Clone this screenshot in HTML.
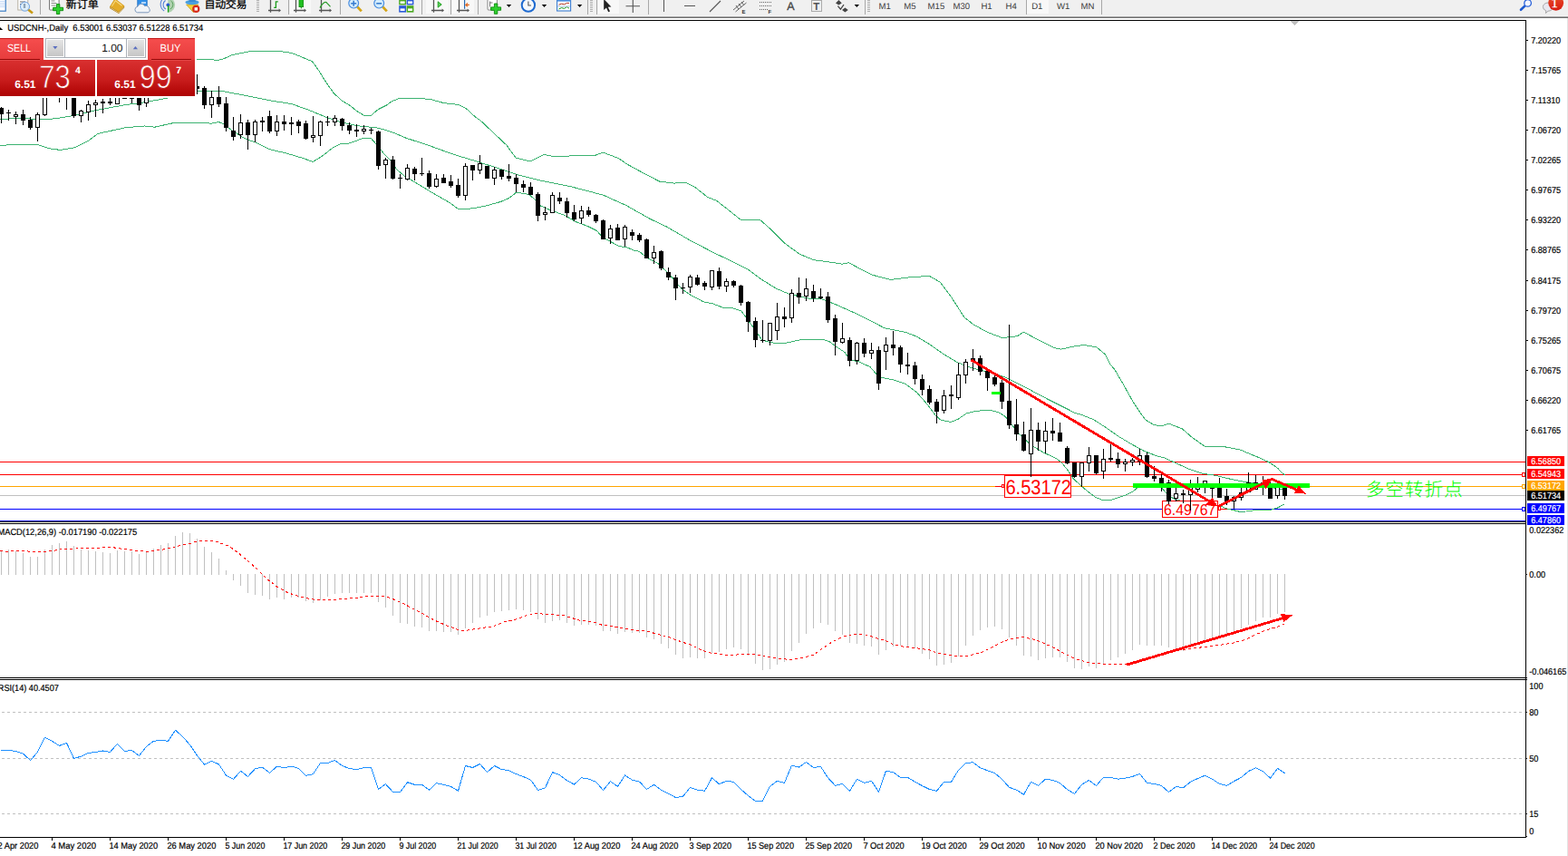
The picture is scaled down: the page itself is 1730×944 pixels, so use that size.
<!DOCTYPE html>
<html><head><meta charset="utf-8"><title>USDCNH Daily</title>
<style>
html,body{margin:0;padding:0;background:#fff;}
body{width:1730px;height:944px;overflow:hidden;position:relative;font-family:"Liberation Sans",sans-serif;}
svg{position:absolute;left:0;top:0;display:block}
text{font-family:"Liberation Sans",sans-serif;text-rendering:geometricPrecision}
.ax{font-size:9.2px;fill:#000}
.c{shape-rendering:crispEdges}
</style></head><body>
<svg width="1730" height="944" viewBox="0 0 1730 944">
<defs>
<linearGradient id="gbtn" x1="0" y1="0" x2="0" y2="1"><stop offset="0" stop-color="#f64d4d"/><stop offset="1" stop-color="#e63c3c"/></linearGradient>
<linearGradient id="gbig" x1="0" y1="0" x2="0" y2="1"><stop offset="0" stop-color="#d93030"/><stop offset="0.55" stop-color="#c81c1c"/><stop offset="1" stop-color="#ad0202"/></linearGradient>
<linearGradient id="gbig2" gradientUnits="userSpaceOnUse" x1="0" y1="66" x2="0" y2="106"><stop offset="0" stop-color="#d93030"/><stop offset="0.55" stop-color="#c81c1c"/><stop offset="1" stop-color="#ad0202"/></linearGradient>
<linearGradient id="gspin" x1="0" y1="0" x2="0" y2="1"><stop offset="0" stop-color="#e4e4e4"/><stop offset="1" stop-color="#c6c6c6"/></linearGradient>
<linearGradient id="gbadge" x1="0" y1="0" x2="0" y2="1"><stop offset="0" stop-color="#e8502c"/><stop offset="1" stop-color="#d81a10"/></linearGradient>
</defs>
<rect x="0" y="0" width="1730" height="944" fill="#fff"/>

<g class="c">
<rect x="0" y="22" width="1684" height="1" fill="#000"/>
<rect x="1683" y="22" width="1" height="902" fill="#000"/>
<rect x="0" y="923" width="1684" height="1" fill="#000"/>
<rect x="0" y="575" width="1684" height="1" fill="#000"/>
<rect x="0" y="577" width="1684" height="1" fill="#000"/>
<rect x="0" y="747" width="1684" height="1" fill="#000"/>
<rect x="0" y="749" width="1684" height="1" fill="#000"/>
<rect x="1729" y="19" width="1" height="925" fill="#e3e3e3"/>
</g>
<g class="c" fill="#c0c0c0"><rect x="1424" y="23" width="9" height="1"/><rect x="1425" y="24" width="7" height="1"/><rect x="1426" y="25" width="5" height="1"/><rect x="1427" y="26" width="3" height="1"/><rect x="1428" y="27" width="1" height="1"/></g>
<g class="c">
<rect x="0" y="509" width="1683" height="1" fill="#ff0000"/>
<rect x="0" y="523" width="1683" height="1" fill="#ff0000"/>
<rect x="0" y="536" width="1683" height="1" fill="#ffa500"/>
<rect x="0" y="546" width="1683" height="1" fill="#c0c0c0"/>
<rect x="0" y="561" width="1683" height="1" fill="#0000ff"/>
<rect x="0" y="574" width="1683" height="1" fill="#0000ff"/>
</g>
<polyline points="215.0,65.5 217.8,65.3 230.0,65.5 240.4,66.4 247.3,64.6 256.0,60.5 276.8,56.5 299.4,56.1 316.7,57.3 323.6,59.1 344.4,67.7 351.4,77.3 360.0,91.2 368.7,103.3 377.4,111.1 386.0,116.3 394.7,123.2 401.7,127.2 409.5,127.2 417.3,120.6 426.0,116.3 432.9,111.4 440.7,108.5 448.5,109.0 455.4,108.1 474.5,109.4 490.0,113.7 505.7,115.4 514.4,119.8 524.8,129.3 530.0,132.8 545.0,147.0 558.8,160.0 569.2,174.2 584.8,177.9 600.4,170.4 613.4,173.0 630.7,171.8 656.8,171.3 665.4,168.1 682.8,174.7 691.4,180.8 708.8,190.3 727.8,200.2 744.2,202.1 756.3,201.1 766.4,206.2 780.6,217.3 790.7,221.4 804.9,232.5 817.0,242.2 839.2,243.0 851.4,253.7 865.5,267.9 881.7,280.0 897.9,286.7 916.1,289.1 929.3,291.2 936.4,289.7 948.5,296.2 962.7,303.3 982.9,308.4 1003.1,305.9 1025.4,304.3 1037.5,311.4 1049.6,327.6 1063.8,349.8 1073.9,357.8 1089.5,366.4 1105.9,372.6 1122.3,370.8 1129.3,366.1 1147.3,375.8 1162.9,383.6 1170.7,385.1 1184.8,382.0 1195.7,380.4 1209.7,382.8 1219.1,390.6 1225.3,402.3 1230.0,407.7 1240.0,425.0 1250.0,443.0 1258.0,455.0 1264.2,463.3 1272.5,468.1 1281.0,470.1 1289.3,467.1 1304.4,472.9 1315.4,482.5 1329.2,492.2 1348.5,492.2 1369.2,496.3 1380.2,501.1 1390.0,505.0 1401.0,510.2 1409.4,516.1 1416.0,522.7 1417.5,524.0" fill="none" stroke="#3cb371" stroke-width="1" class="c"/>
<polyline points="0.0,131.7 22.0,130.0 46.0,132.0 61.0,130.8 82.0,127.3 105.5,121.7 139.0,115.5 152.6,114.0 184.0,108.3 200.0,104.0 217.8,100.2 230.0,100.3 243.9,100.3 264.7,104.2 299.4,111.1 321.9,114.6 341.0,121.5 360.0,129.3 377.4,135.0 394.7,138.8 417.3,141.1 432.9,145.8 448.5,152.4 472.0,160.0 500.7,170.4 526.7,178.2 551.0,186.0 570.0,192.4 596.0,199.0 630.7,206.0 665.4,215.1 691.4,226.8 717.4,241.5 735.5,250.0 760.7,264.7 786.7,278.3 811.0,289.9 824.8,296.8 838.7,307.2 856.0,318.0 870.0,324.0 890.7,328.9 908.0,330.1 922.0,335.8 942.8,345.0 960.0,353.3 975.6,361.7 999.0,366.4 1011.5,371.1 1025.6,379.7 1041.2,390.6 1056.8,399.9 1072.4,405.9 1089.5,410.1 1108.3,415.6 1131.7,427.3 1147.3,435.8 1162.9,443.7 1178.5,451.5 1185.0,455.0 1194.1,457.7 1206.4,462.6 1220.2,471.5 1234.0,481.2 1247.7,489.4 1261.5,497.0 1275.3,502.5 1283.8,504.6 1297.5,510.8 1311.3,517.0 1327.8,522.5 1340.0,524.1 1357.3,528.2 1374.7,531.7 1381.6,532.7 1400.0,537.0 1412.0,539.3 1417.5,539.5" fill="none" stroke="#3cb371" stroke-width="1" class="c"/>
<polyline points="0.0,160.2 37.5,159.2 41.6,159.6 55.5,164.0 66.6,165.4 83.0,162.7 97.0,155.7 108.0,147.4 138.7,140.7 159.5,139.0 170.6,140.2 194.0,135.0 222.0,135.0 233.0,136.3 241.3,134.5 247.3,137.1 256.0,144.0 269.9,152.7 282.0,157.0 296.8,164.5 316.7,169.2 334.0,174.4 345.3,178.4 354.9,172.6 367.0,163.1 375.7,158.8 386.0,157.9 399.9,152.7 409.5,152.7 417.3,161.4 422.5,168.3 431.1,177.0 438.1,187.4 446.7,194.3 457.3,200.7 474.7,211.2 497.2,224.2 505.5,230.6 521.5,229.9 537.1,226.8 552.7,222.4 561.4,218.6 570.0,212.0 583.9,214.6 590.9,220.7 596.0,226.8 606.5,231.4 623.8,237.7 634.2,244.1 648.0,249.3 658.5,254.5 665.4,262.3 672.4,265.8 682.8,271.5 691.4,272.7 700.0,276.4 705.2,277.2 713.9,284.3 726.0,290.7 738.1,302.0 752.0,318.5 760.7,324.6 776.3,332.9 786.7,335.0 797.1,339.0 807.5,339.6 817.9,342.8 824.8,352.3 833.5,364.4 840.5,374.8 847.4,376.9 856.0,378.7 866.5,378.3 885.5,374.3 908.0,374.3 915.0,376.6 922.0,381.8 932.4,388.7 937.6,397.4 946.2,398.3 960.0,404.6 966.2,411.7 972.5,416.3 985.0,418.7 999.0,423.4 1011.5,432.7 1022.4,445.2 1031.8,457.7 1038.0,463.2 1049.0,465.5 1056.8,462.4 1066.1,456.1 1075.5,453.5 1091.1,452.2 1100.5,454.3 1108.3,458.5 1113.0,464.0 1123.8,477.7 1137.5,490.8 1151.3,499.1 1165.0,505.3 1172.0,510.8 1178.9,519.7 1184.4,528.0 1192.6,535.6 1200.9,542.5 1209.2,548.7 1217.4,551.8 1225.7,551.4 1234.0,548.7 1242.2,545.9 1249.1,542.5 1254.6,538.3 1262.0,535.0 1272.0,535.0 1281.0,537.6 1287.7,544.5 1294.8,550.0 1305.0,553.0 1320.0,556.0 1335.0,557.0 1347.0,558.0 1353.9,561.2 1360.9,562.6 1367.7,564.3 1374.7,564.0 1388.6,562.2 1402.4,562.2 1409.4,560.1 1416.6,556.3" fill="none" stroke="#3cb371" stroke-width="1" class="c"/>
<rect class="c" x="1108.5" y="523.5" width="73" height="25" fill="#fff" stroke="#ff0000" stroke-width="1"/>
<rect class="c" x="1108" y="524" width="74" height="1" fill="#ff0000"/>
<text x="1109.4" y="545" textLength="72.6" lengthAdjust="spacingAndGlyphs" style="font-size:22.6px;fill:#ff0000;">6.53172</text>
<rect class="c" x="1098" y="536" width="7" height="1" fill="#ff0000"/>
<rect class="c" x="1105.5" y="534.5" width="2" height="3" fill="#fff" stroke="#ff0000" stroke-width="1"/>
<rect class="c" x="1282.5" y="552.5" width="61" height="18" fill="#fff" stroke="#ff0000" stroke-width="1"/>
<text x="1284" y="568.2" textLength="57.4" lengthAdjust="spacingAndGlyphs" style="font-size:17.1px;fill:#ff0000;">6.49767</text>
<rect class="c" x="1347" y="561" width="7" height="1" fill="#ff0000"/>
<rect class="c" x="1344.5" y="558.5" width="2" height="4" fill="#fff" stroke="#ff0000" stroke-width="1"/>
<g class="c">
<rect x="1" y="118" width="1" height="18" fill="#000"/>
<rect x="-1" y="119" width="5" height="7" fill="#000"/>
<rect x="9" y="121" width="1" height="12" fill="#000"/>
<rect x="7" y="124" width="5" height="1" fill="#000"/>
<rect x="17" y="123" width="1" height="14" fill="#000"/>
<rect x="15" y="126" width="5" height="3" fill="#000"/>
<rect x="16" y="127" width="3" height="1" fill="#fff"/>
<rect x="25" y="121" width="1" height="17" fill="#000"/>
<rect x="23" y="126" width="5" height="7" fill="#000"/>
<rect x="33" y="129" width="1" height="14" fill="#000"/>
<rect x="31" y="132" width="5" height="9" fill="#000"/>
<rect x="41" y="124" width="1" height="32" fill="#000"/>
<rect x="39" y="126" width="5" height="15" fill="#000"/>
<rect x="40" y="127" width="3" height="13" fill="#fff"/>
<rect x="49" y="92" width="1" height="36" fill="#000"/>
<rect x="47" y="95" width="5" height="32" fill="#000"/>
<rect x="48" y="96" width="3" height="30" fill="#fff"/>
<rect x="57" y="88" width="1" height="16" fill="#000"/>
<rect x="55" y="92" width="5" height="8" fill="#000"/>
<rect x="65" y="90" width="1" height="23" fill="#000"/>
<rect x="63" y="95" width="5" height="9" fill="#000"/>
<rect x="64" y="96" width="3" height="7" fill="#fff"/>
<rect x="73" y="92" width="1" height="29" fill="#000"/>
<rect x="71" y="96" width="5" height="8" fill="#000"/>
<rect x="81" y="97" width="1" height="33" fill="#000"/>
<rect x="79" y="100" width="5" height="28" fill="#000"/>
<rect x="89" y="121" width="1" height="14" fill="#000"/>
<rect x="87" y="122" width="5" height="6" fill="#000"/>
<rect x="88" y="123" width="3" height="4" fill="#fff"/>
<rect x="97" y="111" width="1" height="22" fill="#000"/>
<rect x="95" y="115" width="5" height="9" fill="#000"/>
<rect x="96" y="116" width="3" height="7" fill="#fff"/>
<rect x="105" y="110" width="1" height="19" fill="#000"/>
<rect x="103" y="113" width="5" height="3" fill="#000"/>
<rect x="104" y="114" width="3" height="1" fill="#fff"/>
<rect x="113" y="109" width="1" height="16" fill="#000"/>
<rect x="111" y="112" width="5" height="2" fill="#000"/>
<rect x="121" y="108" width="1" height="8" fill="#000"/>
<rect x="119" y="112" width="5" height="2" fill="#000"/>
<rect x="129" y="100" width="1" height="15" fill="#000"/>
<rect x="127" y="104" width="5" height="11" fill="#000"/>
<rect x="128" y="105" width="3" height="9" fill="#fff"/>
<rect x="137" y="98" width="1" height="11" fill="#000"/>
<rect x="135" y="100" width="5" height="9" fill="#000"/>
<rect x="145" y="103" width="1" height="11" fill="#000"/>
<rect x="143" y="108" width="5" height="1" fill="#000"/>
<rect x="153" y="100" width="1" height="22" fill="#000"/>
<rect x="151" y="104" width="5" height="12" fill="#000"/>
<rect x="161" y="98" width="1" height="20" fill="#000"/>
<rect x="159" y="101" width="5" height="13" fill="#000"/>
<rect x="160" y="102" width="3" height="11" fill="#fff"/>
<rect x="169" y="95" width="1" height="11" fill="#000"/>
<rect x="167" y="98" width="5" height="6" fill="#000"/>
<rect x="177" y="94" width="1" height="12" fill="#000"/>
<rect x="175" y="97" width="5" height="6" fill="#000"/>
<rect x="176" y="98" width="3" height="4" fill="#fff"/>
<rect x="185" y="92" width="1" height="13" fill="#000"/>
<rect x="183" y="95" width="5" height="7" fill="#000"/>
<rect x="193" y="85" width="1" height="19" fill="#000"/>
<rect x="191" y="88" width="5" height="12" fill="#000"/>
<rect x="192" y="89" width="3" height="10" fill="#fff"/>
<rect x="201" y="80" width="1" height="20" fill="#000"/>
<rect x="199" y="84" width="5" height="12" fill="#000"/>
<rect x="200" y="85" width="3" height="10" fill="#fff"/>
<rect x="209" y="80" width="1" height="20" fill="#000"/>
<rect x="207" y="86" width="5" height="10" fill="#000"/>
<rect x="217" y="82" width="1" height="22" fill="#000"/>
<rect x="215" y="95" width="5" height="3" fill="#000"/>
<rect x="225" y="95" width="1" height="25" fill="#000"/>
<rect x="223" y="97" width="5" height="19" fill="#000"/>
<rect x="233" y="100" width="1" height="30" fill="#000"/>
<rect x="231" y="107" width="5" height="9" fill="#000"/>
<rect x="232" y="108" width="3" height="7" fill="#fff"/>
<rect x="241" y="95" width="1" height="23" fill="#000"/>
<rect x="239" y="107" width="5" height="8" fill="#000"/>
<rect x="249" y="107" width="1" height="38" fill="#000"/>
<rect x="247" y="114" width="5" height="27" fill="#000"/>
<rect x="257" y="129" width="1" height="26" fill="#000"/>
<rect x="255" y="144" width="5" height="7" fill="#000"/>
<rect x="265" y="126" width="1" height="27" fill="#000"/>
<rect x="263" y="135" width="5" height="14" fill="#000"/>
<rect x="264" y="136" width="3" height="12" fill="#fff"/>
<rect x="273" y="132" width="1" height="33" fill="#000"/>
<rect x="271" y="135" width="5" height="14" fill="#000"/>
<rect x="281" y="132" width="1" height="25" fill="#000"/>
<rect x="279" y="134" width="5" height="15" fill="#000"/>
<rect x="280" y="135" width="3" height="13" fill="#fff"/>
<rect x="289" y="129" width="1" height="16" fill="#000"/>
<rect x="287" y="133" width="5" height="2" fill="#000"/>
<rect x="297" y="122" width="1" height="25" fill="#000"/>
<rect x="295" y="128" width="5" height="17" fill="#000"/>
<rect x="305" y="127" width="1" height="23" fill="#000"/>
<rect x="303" y="134" width="5" height="11" fill="#000"/>
<rect x="304" y="135" width="3" height="9" fill="#fff"/>
<rect x="313" y="127" width="1" height="17" fill="#000"/>
<rect x="311" y="134" width="5" height="3" fill="#000"/>
<rect x="321" y="129" width="1" height="20" fill="#000"/>
<rect x="319" y="135" width="5" height="2" fill="#000"/>
<rect x="329" y="132" width="1" height="15" fill="#000"/>
<rect x="327" y="134" width="5" height="5" fill="#000"/>
<rect x="337" y="133" width="1" height="21" fill="#000"/>
<rect x="335" y="136" width="5" height="17" fill="#000"/>
<rect x="345" y="128" width="1" height="29" fill="#000"/>
<rect x="343" y="149" width="5" height="3" fill="#000"/>
<rect x="344" y="150" width="3" height="1" fill="#fff"/>
<rect x="353" y="133" width="1" height="28" fill="#000"/>
<rect x="351" y="134" width="5" height="16" fill="#000"/>
<rect x="352" y="135" width="3" height="14" fill="#fff"/>
<rect x="361" y="128" width="1" height="11" fill="#000"/>
<rect x="359" y="134" width="5" height="1" fill="#000"/>
<rect x="369" y="127" width="1" height="12" fill="#000"/>
<rect x="367" y="130" width="5" height="5" fill="#000"/>
<rect x="368" y="131" width="3" height="3" fill="#fff"/>
<rect x="377" y="130" width="1" height="14" fill="#000"/>
<rect x="375" y="131" width="5" height="8" fill="#000"/>
<rect x="385" y="135" width="1" height="13" fill="#000"/>
<rect x="383" y="138" width="5" height="6" fill="#000"/>
<rect x="393" y="137" width="1" height="14" fill="#000"/>
<rect x="391" y="143" width="5" height="2" fill="#000"/>
<rect x="401" y="138" width="1" height="10" fill="#000"/>
<rect x="399" y="142" width="5" height="3" fill="#000"/>
<rect x="400" y="143" width="3" height="1" fill="#fff"/>
<rect x="409" y="141" width="1" height="7" fill="#000"/>
<rect x="407" y="143" width="5" height="1" fill="#000"/>
<rect x="417" y="144" width="1" height="43" fill="#000"/>
<rect x="415" y="145" width="5" height="38" fill="#000"/>
<rect x="425" y="174" width="1" height="23" fill="#000"/>
<rect x="423" y="176" width="5" height="6" fill="#000"/>
<rect x="424" y="177" width="3" height="4" fill="#fff"/>
<rect x="433" y="172" width="1" height="26" fill="#000"/>
<rect x="431" y="176" width="5" height="21" fill="#000"/>
<rect x="441" y="192" width="1" height="16" fill="#000"/>
<rect x="439" y="196" width="5" height="1" fill="#000"/>
<rect x="449" y="181" width="1" height="18" fill="#000"/>
<rect x="447" y="185" width="5" height="13" fill="#000"/>
<rect x="448" y="186" width="3" height="11" fill="#fff"/>
<rect x="457" y="184" width="1" height="15" fill="#000"/>
<rect x="455" y="186" width="5" height="6" fill="#000"/>
<rect x="465" y="174" width="1" height="20" fill="#000"/>
<rect x="463" y="191" width="5" height="1" fill="#000"/>
<rect x="473" y="188" width="1" height="20" fill="#000"/>
<rect x="471" y="191" width="5" height="15" fill="#000"/>
<rect x="481" y="192" width="1" height="15" fill="#000"/>
<rect x="479" y="197" width="5" height="9" fill="#000"/>
<rect x="480" y="198" width="3" height="7" fill="#fff"/>
<rect x="489" y="192" width="1" height="10" fill="#000"/>
<rect x="487" y="196" width="5" height="6" fill="#000"/>
<rect x="497" y="193" width="1" height="14" fill="#000"/>
<rect x="495" y="200" width="5" height="5" fill="#000"/>
<rect x="505" y="197" width="1" height="21" fill="#000"/>
<rect x="503" y="204" width="5" height="12" fill="#000"/>
<rect x="513" y="180" width="1" height="41" fill="#000"/>
<rect x="511" y="183" width="5" height="33" fill="#000"/>
<rect x="512" y="184" width="3" height="31" fill="#fff"/>
<rect x="521" y="182" width="1" height="17" fill="#000"/>
<rect x="519" y="182" width="5" height="6" fill="#000"/>
<rect x="529" y="171" width="1" height="21" fill="#000"/>
<rect x="527" y="180" width="5" height="8" fill="#000"/>
<rect x="528" y="181" width="3" height="6" fill="#fff"/>
<rect x="537" y="183" width="1" height="14" fill="#000"/>
<rect x="535" y="183" width="5" height="14" fill="#000"/>
<rect x="545" y="184" width="1" height="20" fill="#000"/>
<rect x="543" y="187" width="5" height="10" fill="#000"/>
<rect x="544" y="188" width="3" height="8" fill="#fff"/>
<rect x="553" y="187" width="1" height="11" fill="#000"/>
<rect x="551" y="187" width="5" height="8" fill="#000"/>
<rect x="561" y="181" width="1" height="19" fill="#000"/>
<rect x="559" y="194" width="5" height="3" fill="#000"/>
<rect x="569" y="192" width="1" height="20" fill="#000"/>
<rect x="567" y="196" width="5" height="7" fill="#000"/>
<rect x="577" y="199" width="1" height="13" fill="#000"/>
<rect x="575" y="203" width="5" height="4" fill="#000"/>
<rect x="585" y="201" width="1" height="14" fill="#000"/>
<rect x="583" y="206" width="5" height="9" fill="#000"/>
<rect x="593" y="212" width="1" height="32" fill="#000"/>
<rect x="591" y="214" width="5" height="24" fill="#000"/>
<rect x="601" y="228" width="1" height="15" fill="#000"/>
<rect x="599" y="234" width="5" height="3" fill="#000"/>
<rect x="600" y="235" width="3" height="1" fill="#fff"/>
<rect x="609" y="212" width="1" height="23" fill="#000"/>
<rect x="607" y="215" width="5" height="20" fill="#000"/>
<rect x="608" y="216" width="3" height="18" fill="#fff"/>
<rect x="617" y="212" width="1" height="13" fill="#000"/>
<rect x="615" y="218" width="5" height="4" fill="#000"/>
<rect x="625" y="218" width="1" height="22" fill="#000"/>
<rect x="623" y="222" width="5" height="13" fill="#000"/>
<rect x="633" y="226" width="1" height="18" fill="#000"/>
<rect x="631" y="234" width="5" height="8" fill="#000"/>
<rect x="641" y="227" width="1" height="20" fill="#000"/>
<rect x="639" y="232" width="5" height="9" fill="#000"/>
<rect x="640" y="233" width="3" height="7" fill="#fff"/>
<rect x="649" y="228" width="1" height="11" fill="#000"/>
<rect x="647" y="232" width="5" height="5" fill="#000"/>
<rect x="657" y="236" width="1" height="10" fill="#000"/>
<rect x="655" y="237" width="5" height="7" fill="#000"/>
<rect x="665" y="242" width="1" height="22" fill="#000"/>
<rect x="663" y="243" width="5" height="21" fill="#000"/>
<rect x="673" y="248" width="1" height="21" fill="#000"/>
<rect x="671" y="252" width="5" height="11" fill="#000"/>
<rect x="672" y="253" width="3" height="9" fill="#fff"/>
<rect x="681" y="247" width="1" height="18" fill="#000"/>
<rect x="679" y="251" width="5" height="14" fill="#000"/>
<rect x="689" y="248" width="1" height="24" fill="#000"/>
<rect x="687" y="250" width="5" height="14" fill="#000"/>
<rect x="688" y="251" width="3" height="12" fill="#fff"/>
<rect x="697" y="253" width="1" height="12" fill="#000"/>
<rect x="695" y="256" width="5" height="4" fill="#000"/>
<rect x="705" y="257" width="1" height="10" fill="#000"/>
<rect x="703" y="259" width="5" height="6" fill="#000"/>
<rect x="713" y="263" width="1" height="22" fill="#000"/>
<rect x="711" y="264" width="5" height="21" fill="#000"/>
<rect x="721" y="271" width="1" height="20" fill="#000"/>
<rect x="719" y="278" width="5" height="7" fill="#000"/>
<rect x="720" y="279" width="3" height="5" fill="#fff"/>
<rect x="729" y="276" width="1" height="22" fill="#000"/>
<rect x="727" y="277" width="5" height="19" fill="#000"/>
<rect x="737" y="295" width="1" height="14" fill="#000"/>
<rect x="735" y="300" width="5" height="6" fill="#000"/>
<rect x="745" y="303" width="1" height="28" fill="#000"/>
<rect x="743" y="306" width="5" height="12" fill="#000"/>
<rect x="753" y="312" width="1" height="12" fill="#000"/>
<rect x="751" y="317" width="5" height="1" fill="#000"/>
<rect x="761" y="303" width="1" height="20" fill="#000"/>
<rect x="759" y="305" width="5" height="12" fill="#000"/>
<rect x="760" y="306" width="3" height="10" fill="#fff"/>
<rect x="769" y="303" width="1" height="12" fill="#000"/>
<rect x="767" y="306" width="5" height="8" fill="#000"/>
<rect x="777" y="310" width="1" height="10" fill="#000"/>
<rect x="775" y="312" width="5" height="4" fill="#000"/>
<rect x="785" y="298" width="1" height="22" fill="#000"/>
<rect x="783" y="298" width="5" height="19" fill="#000"/>
<rect x="784" y="299" width="3" height="17" fill="#fff"/>
<rect x="793" y="295" width="1" height="24" fill="#000"/>
<rect x="791" y="299" width="5" height="17" fill="#000"/>
<rect x="801" y="307" width="1" height="15" fill="#000"/>
<rect x="799" y="310" width="5" height="6" fill="#000"/>
<rect x="800" y="311" width="3" height="4" fill="#fff"/>
<rect x="809" y="309" width="1" height="8" fill="#000"/>
<rect x="807" y="310" width="5" height="5" fill="#000"/>
<rect x="817" y="314" width="1" height="23" fill="#000"/>
<rect x="815" y="315" width="5" height="19" fill="#000"/>
<rect x="825" y="332" width="1" height="34" fill="#000"/>
<rect x="823" y="333" width="5" height="22" fill="#000"/>
<rect x="833" y="350" width="1" height="33" fill="#000"/>
<rect x="831" y="354" width="5" height="21" fill="#000"/>
<rect x="841" y="353" width="1" height="25" fill="#000"/>
<rect x="839" y="375" width="5" height="1" fill="#000"/>
<rect x="849" y="356" width="1" height="25" fill="#000"/>
<rect x="847" y="356" width="5" height="20" fill="#000"/>
<rect x="848" y="357" width="3" height="18" fill="#fff"/>
<rect x="857" y="334" width="1" height="41" fill="#000"/>
<rect x="855" y="349" width="5" height="16" fill="#000"/>
<rect x="856" y="350" width="3" height="14" fill="#fff"/>
<rect x="865" y="339" width="1" height="22" fill="#000"/>
<rect x="863" y="349" width="5" height="3" fill="#000"/>
<rect x="873" y="319" width="1" height="37" fill="#000"/>
<rect x="871" y="323" width="5" height="28" fill="#000"/>
<rect x="872" y="324" width="3" height="26" fill="#fff"/>
<rect x="881" y="306" width="1" height="29" fill="#000"/>
<rect x="879" y="323" width="5" height="5" fill="#000"/>
<rect x="889" y="307" width="1" height="25" fill="#000"/>
<rect x="887" y="318" width="5" height="9" fill="#000"/>
<rect x="888" y="319" width="3" height="7" fill="#fff"/>
<rect x="897" y="314" width="1" height="19" fill="#000"/>
<rect x="895" y="321" width="5" height="8" fill="#000"/>
<rect x="905" y="318" width="1" height="12" fill="#000"/>
<rect x="903" y="327" width="5" height="2" fill="#000"/>
<rect x="913" y="322" width="1" height="34" fill="#000"/>
<rect x="911" y="327" width="5" height="26" fill="#000"/>
<rect x="921" y="347" width="1" height="45" fill="#000"/>
<rect x="919" y="351" width="5" height="26" fill="#000"/>
<rect x="929" y="356" width="1" height="23" fill="#000"/>
<rect x="927" y="373" width="5" height="5" fill="#000"/>
<rect x="928" y="374" width="3" height="3" fill="#fff"/>
<rect x="937" y="372" width="1" height="32" fill="#000"/>
<rect x="935" y="375" width="5" height="23" fill="#000"/>
<rect x="945" y="377" width="1" height="25" fill="#000"/>
<rect x="943" y="378" width="5" height="20" fill="#000"/>
<rect x="944" y="379" width="3" height="18" fill="#fff"/>
<rect x="953" y="373" width="1" height="21" fill="#000"/>
<rect x="951" y="378" width="5" height="12" fill="#000"/>
<rect x="961" y="378" width="1" height="18" fill="#000"/>
<rect x="959" y="386" width="5" height="4" fill="#000"/>
<rect x="960" y="387" width="3" height="2" fill="#fff"/>
<rect x="969" y="382" width="1" height="48" fill="#000"/>
<rect x="967" y="386" width="5" height="37" fill="#000"/>
<rect x="977" y="372" width="1" height="36" fill="#000"/>
<rect x="975" y="380" width="5" height="8" fill="#000"/>
<rect x="976" y="381" width="3" height="6" fill="#fff"/>
<rect x="985" y="365" width="1" height="27" fill="#000"/>
<rect x="983" y="380" width="5" height="4" fill="#000"/>
<rect x="993" y="381" width="1" height="30" fill="#000"/>
<rect x="991" y="383" width="5" height="19" fill="#000"/>
<rect x="1001" y="389" width="1" height="24" fill="#000"/>
<rect x="999" y="402" width="5" height="2" fill="#000"/>
<rect x="1009" y="399" width="1" height="25" fill="#000"/>
<rect x="1007" y="403" width="5" height="15" fill="#000"/>
<rect x="1017" y="413" width="1" height="23" fill="#000"/>
<rect x="1015" y="418" width="5" height="12" fill="#000"/>
<rect x="1025" y="425" width="1" height="21" fill="#000"/>
<rect x="1023" y="429" width="5" height="15" fill="#000"/>
<rect x="1033" y="440" width="1" height="27" fill="#000"/>
<rect x="1031" y="443" width="5" height="11" fill="#000"/>
<rect x="1041" y="430" width="1" height="26" fill="#000"/>
<rect x="1039" y="436" width="5" height="17" fill="#000"/>
<rect x="1040" y="437" width="3" height="15" fill="#fff"/>
<rect x="1049" y="425" width="1" height="26" fill="#000"/>
<rect x="1047" y="435" width="5" height="2" fill="#000"/>
<rect x="1057" y="400" width="1" height="41" fill="#000"/>
<rect x="1055" y="413" width="5" height="26" fill="#000"/>
<rect x="1056" y="414" width="3" height="24" fill="#fff"/>
<rect x="1065" y="396" width="1" height="27" fill="#000"/>
<rect x="1063" y="399" width="5" height="15" fill="#000"/>
<rect x="1064" y="400" width="3" height="13" fill="#fff"/>
<rect x="1073" y="385" width="1" height="24" fill="#000"/>
<rect x="1071" y="395" width="5" height="4" fill="#000"/>
<rect x="1081" y="392" width="1" height="22" fill="#000"/>
<rect x="1079" y="395" width="5" height="15" fill="#000"/>
<rect x="1089" y="409" width="1" height="22" fill="#000"/>
<rect x="1087" y="409" width="5" height="8" fill="#000"/>
<rect x="1097" y="413" width="1" height="13" fill="#000"/>
<rect x="1095" y="416" width="5" height="8" fill="#000"/>
<rect x="1105" y="416" width="1" height="35" fill="#000"/>
<rect x="1103" y="422" width="5" height="21" fill="#000"/>
<rect x="1113" y="358" width="1" height="115" fill="#000"/>
<rect x="1111" y="442" width="5" height="27" fill="#000"/>
<rect x="1121" y="440" width="1" height="46" fill="#000"/>
<rect x="1119" y="468" width="5" height="11" fill="#000"/>
<rect x="1129" y="465" width="1" height="33" fill="#000"/>
<rect x="1127" y="479" width="5" height="18" fill="#000"/>
<rect x="1137" y="450" width="1" height="76" fill="#000"/>
<rect x="1135" y="474" width="5" height="27" fill="#000"/>
<rect x="1136" y="475" width="3" height="25" fill="#fff"/>
<rect x="1145" y="466" width="1" height="31" fill="#000"/>
<rect x="1143" y="474" width="5" height="13" fill="#000"/>
<rect x="1153" y="465" width="1" height="35" fill="#000"/>
<rect x="1151" y="475" width="5" height="12" fill="#000"/>
<rect x="1152" y="476" width="3" height="10" fill="#fff"/>
<rect x="1161" y="461" width="1" height="25" fill="#000"/>
<rect x="1159" y="475" width="5" height="3" fill="#000"/>
<rect x="1169" y="466" width="1" height="21" fill="#000"/>
<rect x="1167" y="477" width="5" height="10" fill="#000"/>
<rect x="1177" y="492" width="1" height="20" fill="#000"/>
<rect x="1175" y="494" width="5" height="17" fill="#000"/>
<rect x="1185" y="510" width="1" height="17" fill="#000"/>
<rect x="1183" y="510" width="5" height="16" fill="#000"/>
<rect x="1193" y="510" width="1" height="27" fill="#000"/>
<rect x="1191" y="510" width="5" height="16" fill="#000"/>
<rect x="1192" y="511" width="3" height="14" fill="#fff"/>
<rect x="1201" y="493" width="1" height="27" fill="#000"/>
<rect x="1199" y="502" width="5" height="9" fill="#000"/>
<rect x="1200" y="503" width="3" height="7" fill="#fff"/>
<rect x="1209" y="502" width="1" height="21" fill="#000"/>
<rect x="1207" y="502" width="5" height="20" fill="#000"/>
<rect x="1217" y="495" width="1" height="33" fill="#000"/>
<rect x="1215" y="506" width="5" height="14" fill="#000"/>
<rect x="1216" y="507" width="3" height="12" fill="#fff"/>
<rect x="1225" y="490" width="1" height="19" fill="#000"/>
<rect x="1223" y="505" width="5" height="2" fill="#000"/>
<rect x="1233" y="499" width="1" height="17" fill="#000"/>
<rect x="1231" y="506" width="5" height="6" fill="#000"/>
<rect x="1241" y="506" width="1" height="14" fill="#000"/>
<rect x="1239" y="509" width="5" height="3" fill="#000"/>
<rect x="1240" y="510" width="3" height="1" fill="#fff"/>
<rect x="1249" y="505" width="1" height="9" fill="#000"/>
<rect x="1247" y="507" width="5" height="3" fill="#000"/>
<rect x="1248" y="508" width="3" height="1" fill="#fff"/>
<rect x="1257" y="495" width="1" height="18" fill="#000"/>
<rect x="1255" y="502" width="5" height="7" fill="#000"/>
<rect x="1256" y="503" width="3" height="5" fill="#fff"/>
<rect x="1265" y="499" width="1" height="28" fill="#000"/>
<rect x="1263" y="502" width="5" height="24" fill="#000"/>
<rect x="1273" y="514" width="1" height="17" fill="#000"/>
<rect x="1271" y="525" width="5" height="3" fill="#000"/>
<rect x="1281" y="523" width="1" height="19" fill="#000"/>
<rect x="1279" y="527" width="5" height="10" fill="#000"/>
<rect x="1289" y="529" width="1" height="27" fill="#000"/>
<rect x="1287" y="532" width="5" height="21" fill="#000"/>
<rect x="1297" y="538" width="1" height="15" fill="#000"/>
<rect x="1295" y="544" width="5" height="6" fill="#000"/>
<rect x="1296" y="545" width="3" height="4" fill="#fff"/>
<rect x="1305" y="540" width="1" height="15" fill="#000"/>
<rect x="1303" y="544" width="5" height="2" fill="#000"/>
<rect x="1313" y="529" width="1" height="34" fill="#000"/>
<rect x="1311" y="536" width="5" height="10" fill="#000"/>
<rect x="1312" y="537" width="3" height="8" fill="#fff"/>
<rect x="1321" y="526" width="1" height="17" fill="#000"/>
<rect x="1319" y="534" width="5" height="6" fill="#000"/>
<rect x="1320" y="535" width="3" height="4" fill="#fff"/>
<rect x="1329" y="530" width="1" height="14" fill="#000"/>
<rect x="1327" y="530" width="5" height="6" fill="#000"/>
<rect x="1328" y="531" width="3" height="4" fill="#fff"/>
<rect x="1337" y="538" width="1" height="11" fill="#000"/>
<rect x="1335" y="538" width="5" height="1" fill="#000"/>
<rect x="1345" y="527" width="1" height="22" fill="#000"/>
<rect x="1343" y="538" width="5" height="11" fill="#000"/>
<rect x="1353" y="539" width="1" height="18" fill="#000"/>
<rect x="1351" y="547" width="5" height="6" fill="#000"/>
<rect x="1361" y="547" width="1" height="14" fill="#000"/>
<rect x="1359" y="548" width="5" height="5" fill="#000"/>
<rect x="1360" y="549" width="3" height="3" fill="#fff"/>
<rect x="1369" y="538" width="1" height="14" fill="#000"/>
<rect x="1367" y="543" width="5" height="6" fill="#000"/>
<rect x="1368" y="544" width="3" height="4" fill="#fff"/>
<rect x="1377" y="521" width="1" height="22" fill="#000"/>
<rect x="1375" y="532" width="5" height="11" fill="#000"/>
<rect x="1376" y="533" width="3" height="9" fill="#fff"/>
<rect x="1385" y="524" width="1" height="16" fill="#000"/>
<rect x="1383" y="532" width="5" height="8" fill="#000"/>
<rect x="1384" y="533" width="3" height="6" fill="#fff"/>
<rect x="1393" y="525" width="1" height="21" fill="#000"/>
<rect x="1391" y="532" width="5" height="1" fill="#000"/>
<rect x="1401" y="532" width="1" height="18" fill="#000"/>
<rect x="1399" y="534" width="5" height="16" fill="#000"/>
<rect x="1409" y="532" width="1" height="18" fill="#000"/>
<rect x="1407" y="535" width="5" height="12" fill="#000"/>
<rect x="1408" y="536" width="3" height="10" fill="#fff"/>
<rect x="1417" y="534" width="1" height="17" fill="#000"/>
<rect x="1415" y="535" width="5" height="12" fill="#000"/>
</g>
<g class="c" fill="#c0c0c0">
<rect x="1" y="607" width="1" height="27"/>
<rect x="9" y="606" width="1" height="28"/>
<rect x="17" y="608" width="1" height="26"/>
<rect x="25" y="610" width="1" height="24"/>
<rect x="33" y="614" width="1" height="20"/>
<rect x="41" y="614" width="1" height="20"/>
<rect x="49" y="606" width="1" height="28"/>
<rect x="57" y="601" width="1" height="33"/>
<rect x="65" y="599" width="1" height="35"/>
<rect x="73" y="597" width="1" height="37"/>
<rect x="81" y="602" width="1" height="32"/>
<rect x="89" y="606" width="1" height="28"/>
<rect x="97" y="607" width="1" height="27"/>
<rect x="105" y="608" width="1" height="26"/>
<rect x="113" y="609" width="1" height="25"/>
<rect x="121" y="610" width="1" height="24"/>
<rect x="129" y="607" width="1" height="27"/>
<rect x="137" y="608" width="1" height="26"/>
<rect x="145" y="608" width="1" height="26"/>
<rect x="153" y="611" width="1" height="23"/>
<rect x="161" y="609" width="1" height="25"/>
<rect x="169" y="605" width="1" height="29"/>
<rect x="177" y="601" width="1" height="33"/>
<rect x="185" y="599" width="1" height="35"/>
<rect x="193" y="591" width="1" height="43"/>
<rect x="201" y="587" width="1" height="47"/>
<rect x="209" y="588" width="1" height="46"/>
<rect x="217" y="594" width="1" height="40"/>
<rect x="225" y="603" width="1" height="31"/>
<rect x="233" y="609" width="1" height="25"/>
<rect x="241" y="616" width="1" height="18"/>
<rect x="249" y="629" width="1" height="5"/>
<rect x="257" y="633" width="1" height="7"/>
<rect x="265" y="633" width="1" height="13"/>
<rect x="273" y="633" width="1" height="21"/>
<rect x="281" y="633" width="1" height="23"/>
<rect x="289" y="633" width="1" height="24"/>
<rect x="297" y="633" width="1" height="28"/>
<rect x="305" y="633" width="1" height="26"/>
<rect x="313" y="633" width="1" height="28"/>
<rect x="321" y="633" width="1" height="26"/>
<rect x="329" y="633" width="1" height="26"/>
<rect x="337" y="633" width="1" height="30"/>
<rect x="345" y="633" width="1" height="32"/>
<rect x="353" y="633" width="1" height="29"/>
<rect x="361" y="633" width="1" height="25"/>
<rect x="369" y="633" width="1" height="22"/>
<rect x="377" y="633" width="1" height="21"/>
<rect x="385" y="633" width="1" height="21"/>
<rect x="393" y="633" width="1" height="21"/>
<rect x="401" y="633" width="1" height="21"/>
<rect x="409" y="633" width="1" height="21"/>
<rect x="417" y="633" width="1" height="31"/>
<rect x="425" y="633" width="1" height="37"/>
<rect x="433" y="633" width="1" height="46"/>
<rect x="441" y="633" width="1" height="54"/>
<rect x="449" y="633" width="1" height="55"/>
<rect x="457" y="633" width="1" height="58"/>
<rect x="465" y="633" width="1" height="59"/>
<rect x="473" y="633" width="1" height="63"/>
<rect x="481" y="633" width="1" height="63"/>
<rect x="489" y="633" width="1" height="64"/>
<rect x="497" y="633" width="1" height="64"/>
<rect x="505" y="633" width="1" height="67"/>
<rect x="513" y="633" width="1" height="60"/>
<rect x="521" y="633" width="1" height="54"/>
<rect x="529" y="633" width="1" height="48"/>
<rect x="537" y="633" width="1" height="46"/>
<rect x="545" y="633" width="1" height="42"/>
<rect x="553" y="633" width="1" height="41"/>
<rect x="561" y="633" width="1" height="40"/>
<rect x="569" y="633" width="1" height="39"/>
<rect x="577" y="633" width="1" height="40"/>
<rect x="585" y="633" width="1" height="42"/>
<rect x="593" y="633" width="1" height="50"/>
<rect x="601" y="633" width="1" height="54"/>
<rect x="609" y="633" width="1" height="52"/>
<rect x="617" y="633" width="1" height="51"/>
<rect x="625" y="633" width="1" height="54"/>
<rect x="633" y="633" width="1" height="57"/>
<rect x="641" y="633" width="1" height="56"/>
<rect x="649" y="633" width="1" height="56"/>
<rect x="657" y="633" width="1" height="57"/>
<rect x="665" y="633" width="1" height="63"/>
<rect x="673" y="633" width="1" height="63"/>
<rect x="681" y="633" width="1" height="66"/>
<rect x="689" y="633" width="1" height="64"/>
<rect x="697" y="633" width="1" height="65"/>
<rect x="705" y="633" width="1" height="65"/>
<rect x="713" y="633" width="1" height="70"/>
<rect x="721" y="633" width="1" height="72"/>
<rect x="729" y="633" width="1" height="77"/>
<rect x="737" y="633" width="1" height="82"/>
<rect x="745" y="633" width="1" height="89"/>
<rect x="753" y="633" width="1" height="93"/>
<rect x="761" y="633" width="1" height="92"/>
<rect x="769" y="633" width="1" height="93"/>
<rect x="777" y="633" width="1" height="93"/>
<rect x="785" y="633" width="1" height="87"/>
<rect x="793" y="633" width="1" height="86"/>
<rect x="801" y="633" width="1" height="83"/>
<rect x="809" y="633" width="1" height="81"/>
<rect x="817" y="633" width="1" height="83"/>
<rect x="825" y="633" width="1" height="90"/>
<rect x="833" y="633" width="1" height="99"/>
<rect x="841" y="633" width="1" height="106"/>
<rect x="849" y="633" width="1" height="105"/>
<rect x="857" y="633" width="1" height="100"/>
<rect x="865" y="633" width="1" height="97"/>
<rect x="873" y="633" width="1" height="85"/>
<rect x="881" y="633" width="1" height="76"/>
<rect x="889" y="633" width="1" height="66"/>
<rect x="897" y="633" width="1" height="60"/>
<rect x="905" y="633" width="1" height="54"/>
<rect x="913" y="633" width="1" height="56"/>
<rect x="921" y="633" width="1" height="63"/>
<rect x="929" y="633" width="1" height="67"/>
<rect x="937" y="633" width="1" height="76"/>
<rect x="945" y="633" width="1" height="77"/>
<rect x="953" y="633" width="1" height="79"/>
<rect x="961" y="633" width="1" height="80"/>
<rect x="969" y="633" width="1" height="89"/>
<rect x="977" y="633" width="1" height="84"/>
<rect x="985" y="633" width="1" height="80"/>
<rect x="993" y="633" width="1" height="79"/>
<rect x="1001" y="633" width="1" height="80"/>
<rect x="1009" y="633" width="1" height="82"/>
<rect x="1017" y="633" width="1" height="88"/>
<rect x="1025" y="633" width="1" height="94"/>
<rect x="1033" y="633" width="1" height="101"/>
<rect x="1041" y="633" width="1" height="100"/>
<rect x="1049" y="633" width="1" height="98"/>
<rect x="1057" y="633" width="1" height="91"/>
<rect x="1065" y="633" width="1" height="79"/>
<rect x="1073" y="633" width="1" height="68"/>
<rect x="1081" y="633" width="1" height="62"/>
<rect x="1089" y="633" width="1" height="59"/>
<rect x="1097" y="633" width="1" height="58"/>
<rect x="1105" y="633" width="1" height="61"/>
<rect x="1113" y="633" width="1" height="70"/>
<rect x="1121" y="633" width="1" height="79"/>
<rect x="1129" y="633" width="1" height="90"/>
<rect x="1137" y="633" width="1" height="91"/>
<rect x="1145" y="633" width="1" height="95"/>
<rect x="1153" y="633" width="1" height="93"/>
<rect x="1161" y="633" width="1" height="92"/>
<rect x="1169" y="633" width="1" height="92"/>
<rect x="1177" y="633" width="1" height="97"/>
<rect x="1185" y="633" width="1" height="104"/>
<rect x="1193" y="633" width="1" height="105"/>
<rect x="1201" y="633" width="1" height="102"/>
<rect x="1209" y="633" width="1" height="104"/>
<rect x="1217" y="633" width="1" height="99"/>
<rect x="1225" y="633" width="1" height="95"/>
<rect x="1233" y="633" width="1" height="92"/>
<rect x="1241" y="633" width="1" height="88"/>
<rect x="1249" y="633" width="1" height="84"/>
<rect x="1257" y="633" width="1" height="78"/>
<rect x="1265" y="633" width="1" height="79"/>
<rect x="1273" y="633" width="1" height="79"/>
<rect x="1281" y="633" width="1" height="79"/>
<rect x="1289" y="633" width="1" height="81"/>
<rect x="1297" y="633" width="1" height="83"/>
<rect x="1305" y="633" width="1" height="85"/>
<rect x="1313" y="633" width="1" height="80"/>
<rect x="1321" y="633" width="1" height="78"/>
<rect x="1329" y="633" width="1" height="75"/>
<rect x="1337" y="633" width="1" height="72"/>
<rect x="1345" y="633" width="1" height="69"/>
<rect x="1353" y="633" width="1" height="66"/>
<rect x="1361" y="633" width="1" height="63"/>
<rect x="1369" y="633" width="1" height="60"/>
<rect x="1377" y="633" width="1" height="56"/>
<rect x="1385" y="633" width="1" height="52"/>
<rect x="1393" y="633" width="1" height="48"/>
<rect x="1401" y="633" width="1" height="48"/>
<rect x="1409" y="633" width="1" height="44"/>
<rect x="1417" y="633" width="1" height="42"/>
</g>
<polyline points="0.0,607.4 7.4,608.7 16.6,607.4 27.7,607.4 35.1,608.7 48.1,608.3 59.2,607.4 66.6,605.9 81.4,605.3 88.8,604.4 107.3,604.4 112.8,603.5 123.9,603.5 129.5,604.6 144.3,606.5 153.5,607.7 162.8,608.3 177.6,606.5 185.0,605.0 192.4,603.1 203.5,600.3 210.9,599.1 217.4,597.0 233.1,596.6 240.5,597.9 253.4,602.6 262.7,609.6 273.8,618.8 284.9,629.0 293.0,637.2 300.0,642.7 306.0,647.3 312.0,650.7 318.0,653.8 325.4,656.4 336.5,659.4 344.6,660.9 354.7,661.5 370.9,661.5 379.0,660.3 395.2,659.4 403.3,657.8 419.5,657.2 427.6,658.4 435.7,661.5 445.8,665.9 455.9,671.6 468.0,677.7 480.2,684.5 492.3,689.6 504.4,694.2 511.5,695.9 520.6,694.2 544.9,690.6 557.0,685.7 571.2,682.5 579.3,679.1 593.5,676.4 603.6,677.7 621.8,678.5 630.1,681.3 640.2,684.3 656.4,686.4 664.5,689.4 676.6,690.8 688.8,693.4 700.9,694.9 715.1,696.5 725.2,699.3 737.3,702.3 749.5,707.0 761.6,711.0 773.8,716.7 781.8,719.7 792.0,721.2 806.1,722.6 822.3,721.2 834.4,721.6 842.5,723.8 854.7,725.8 872.9,727.6 883.0,725.8 897.2,722.6 905.2,716.5 917.4,708.4 929.5,702.3 939.6,699.9 953.0,699.5 960.1,701.3 968.2,704.0 976.3,706.0 984.4,710.4 996.5,713.1 1010.7,714.7 1024.9,716.7 1035.0,720.5 1051.2,722.6 1057.2,724.2 1067.3,723.2 1081.5,720.1 1091.6,715.1 1103.8,709.0 1113.9,705.0 1128.0,702.5 1140.2,705.0 1148.3,708.0 1160.4,713.1 1172.5,719.7 1184.7,725.8 1192.8,728.6 1202.9,730.9 1217.0,732.3 1241.6,732.4 1260.0,728.5 1280.0,722.8 1300.0,717.2 1313.1,715.4 1331.2,713.2 1345.6,711.3 1360.0,709.2 1374.5,705.3 1386.1,699.5 1396.2,695.1 1410.6,690.8 1417.1,687.9" fill="none" stroke="#ff0000" stroke-width="1" stroke-dasharray="3 3" class="c"/>
<line class="c" x1="2" y1="785.5" x2="1683" y2="785.5" stroke="#c0c0c0" stroke-width="1" stroke-dasharray="3 3"/>
<line class="c" x1="2" y1="836.5" x2="1683" y2="836.5" stroke="#c0c0c0" stroke-width="1" stroke-dasharray="3 3"/>
<line class="c" x1="2" y1="897.5" x2="1683" y2="897.5" stroke="#c0c0c0" stroke-width="1" stroke-dasharray="3 3"/>
<polyline points="1.5,828.0 9.5,827.4 17.5,828.4 25.5,831.1 33.5,838.6 41.5,829.4 49.5,813.3 57.5,817.3 65.5,822.4 73.5,819.3 81.5,836.5 89.5,834.1 97.5,830.5 105.5,829.4 113.5,828.0 121.5,829.4 129.5,820.3 137.5,828.4 145.5,827.4 153.5,833.5 161.5,823.4 169.5,817.3 177.5,816.3 185.5,817.3 193.5,805.2 201.5,812.3 209.5,821.4 217.5,833.1 225.5,843.2 233.5,839.2 241.5,843.0 249.5,855.1 257.5,859.4 265.5,850.3 273.5,856.4 281.5,847.7 289.5,846.2 297.5,852.3 305.5,845.2 313.5,846.6 321.5,845.2 329.5,847.3 337.5,855.3 345.5,853.6 353.5,841.5 361.5,841.5 369.5,838.4 377.5,844.5 385.5,847.5 393.5,848.6 401.5,846.5 409.5,846.5 417.5,870.4 425.5,864.7 433.5,873.4 441.5,873.4 449.5,862.7 457.5,865.3 465.5,865.3 473.5,871.2 481.5,863.7 489.5,865.3 497.5,867.4 505.5,872.2 513.5,844.5 521.5,846.5 529.5,842.5 537.5,851.6 545.5,844.5 553.5,848.6 561.5,849.6 569.5,853.6 577.5,856.6 585.5,860.1 593.5,871.4 601.5,868.8 609.5,851.6 617.5,854.6 625.5,860.7 633.5,865.1 641.5,857.7 649.5,859.1 657.5,862.3 665.5,871.4 673.5,861.7 681.5,867.4 689.5,855.0 697.5,860.1 705.5,862.1 713.5,870.4 721.5,865.3 729.5,871.2 737.5,875.3 745.5,879.5 753.5,878.3 761.5,868.4 769.5,871.2 777.5,872.2 785.5,857.7 793.5,864.7 801.5,861.3 809.5,862.3 817.5,870.4 825.5,877.5 833.5,883.4 841.5,883.4 849.5,867.4 857.5,861.3 865.5,863.3 873.5,844.1 881.5,846.1 889.5,840.5 897.5,846.5 905.5,845.5 913.5,857.7 921.5,866.4 929.5,864.3 937.5,872.2 945.5,859.3 953.5,863.3 961.5,861.3 969.5,873.2 977.5,850.2 985.5,851.6 993.5,857.3 1001.5,857.3 1009.5,862.3 1017.5,866.6 1025.5,870.5 1033.5,872.3 1041.5,862.3 1049.5,862.3 1057.5,849.3 1065.5,841.5 1073.5,840.8 1081.5,846.7 1089.5,849.8 1097.5,852.6 1105.5,859.2 1113.5,868.3 1121.5,871.1 1129.5,876.3 1137.5,862.1 1145.5,866.4 1153.5,859.2 1161.5,860.4 1169.5,863.5 1177.5,870.6 1185.5,875.4 1193.5,865.2 1201.5,860.4 1209.5,866.4 1217.5,857.4 1225.5,857.4 1233.5,859.2 1241.5,858.1 1249.5,856.4 1257.5,853.3 1265.5,863.3 1273.5,864.5 1281.5,866.4 1289.5,873.5 1297.5,867.5 1305.5,868.7 1313.5,862.3 1321.5,858.5 1329.5,855.2 1337.5,859.2 1345.5,864.5 1353.5,866.4 1361.5,861.6 1369.5,857.4 1377.5,850.5 1385.5,846.9 1393.5,850.5 1401.5,858.1 1409.5,847.4 1417.5,852.6" fill="none" stroke="#1e90ff" stroke-width="1" class="c"/>
<g class="c" fill="#000">
<rect x="1684" y="44" width="2" height="1"/>
<rect x="1684" y="77" width="2" height="1"/>
<rect x="1684" y="110" width="2" height="1"/>
<rect x="1684" y="143" width="2" height="1"/>
<rect x="1684" y="176" width="2" height="1"/>
<rect x="1684" y="209" width="2" height="1"/>
<rect x="1684" y="242" width="2" height="1"/>
<rect x="1684" y="275" width="2" height="1"/>
<rect x="1684" y="309" width="2" height="1"/>
<rect x="1684" y="342" width="2" height="1"/>
<rect x="1684" y="375" width="2" height="1"/>
<rect x="1684" y="408" width="2" height="1"/>
<rect x="1684" y="441" width="2" height="1"/>
<rect x="1684" y="474" width="2" height="1"/>
</g>
<text transform="translate(1689.2 48.1) scale(0.91 1)" text-anchor="start" style="font-size:10px;fill:#000;stroke:#000;stroke-width:0.2px;">7.20220</text>
<text transform="translate(1689.2 81.1) scale(0.91 1)" text-anchor="start" style="font-size:10px;fill:#000;stroke:#000;stroke-width:0.2px;">7.15765</text>
<text transform="translate(1689.2 114.1) scale(0.91 1)" text-anchor="start" style="font-size:10px;fill:#000;stroke:#000;stroke-width:0.2px;">7.11310</text>
<text transform="translate(1689.2 147.1) scale(0.91 1)" text-anchor="start" style="font-size:10px;fill:#000;stroke:#000;stroke-width:0.2px;">7.06720</text>
<text transform="translate(1689.2 180.1) scale(0.91 1)" text-anchor="start" style="font-size:10px;fill:#000;stroke:#000;stroke-width:0.2px;">7.02265</text>
<text transform="translate(1689.2 213.1) scale(0.91 1)" text-anchor="start" style="font-size:10px;fill:#000;stroke:#000;stroke-width:0.2px;">6.97675</text>
<text transform="translate(1689.2 246.1) scale(0.91 1)" text-anchor="start" style="font-size:10px;fill:#000;stroke:#000;stroke-width:0.2px;">6.93220</text>
<text transform="translate(1689.2 279.1) scale(0.91 1)" text-anchor="start" style="font-size:10px;fill:#000;stroke:#000;stroke-width:0.2px;">6.88765</text>
<text transform="translate(1689.2 313.1) scale(0.91 1)" text-anchor="start" style="font-size:10px;fill:#000;stroke:#000;stroke-width:0.2px;">6.84175</text>
<text transform="translate(1689.2 346.1) scale(0.91 1)" text-anchor="start" style="font-size:10px;fill:#000;stroke:#000;stroke-width:0.2px;">6.79720</text>
<text transform="translate(1689.2 379.1) scale(0.91 1)" text-anchor="start" style="font-size:10px;fill:#000;stroke:#000;stroke-width:0.2px;">6.75265</text>
<text transform="translate(1689.2 412.1) scale(0.91 1)" text-anchor="start" style="font-size:10px;fill:#000;stroke:#000;stroke-width:0.2px;">6.70675</text>
<text transform="translate(1689.2 445.1) scale(0.91 1)" text-anchor="start" style="font-size:10px;fill:#000;stroke:#000;stroke-width:0.2px;">6.66220</text>
<text transform="translate(1689.2 478.1) scale(0.91 1)" text-anchor="start" style="font-size:10px;fill:#000;stroke:#000;stroke-width:0.2px;">6.61765</text>
<rect class="c" x="1685" y="503" width="41" height="11" fill="#ff0000"/>
<text transform="translate(1689.2 512.2) scale(0.91 1)" text-anchor="start" style="font-size:10px;fill:#fff;stroke:#fff;stroke-width:0.2px;">6.56850</text>
<rect class="c" x="1685" y="517" width="41" height="11" fill="#ff0000"/>
<text transform="translate(1689.2 526.2) scale(0.91 1)" text-anchor="start" style="font-size:10px;fill:#fff;stroke:#fff;stroke-width:0.2px;">6.54943</text>
<rect class="c" x="1685" y="530" width="41" height="11" fill="#ffa500"/>
<text transform="translate(1689.2 539.2) scale(0.91 1)" text-anchor="start" style="font-size:10px;fill:#fff;stroke:#fff;stroke-width:0.2px;">6.53172</text>
<rect class="c" x="1685" y="541" width="41" height="11" fill="#000000"/>
<text transform="translate(1689.2 550.2) scale(0.91 1)" text-anchor="start" style="font-size:10px;fill:#fff;stroke:#fff;stroke-width:0.2px;">6.51734</text>
<rect class="c" x="1685" y="555" width="41" height="11" fill="#0000ff"/>
<text transform="translate(1689.2 564.2) scale(0.91 1)" text-anchor="start" style="font-size:10px;fill:#fff;stroke:#fff;stroke-width:0.2px;">6.49767</text>
<rect class="c" x="1685" y="568" width="41" height="11" fill="#0000ff"/>
<text transform="translate(1689.2 577.2) scale(0.91 1)" text-anchor="start" style="font-size:10px;fill:#fff;stroke:#fff;stroke-width:0.2px;">6.47860</text>
<rect class="c" x="1679" y="521" width="4" height="5" fill="#ff0000"/><rect class="c" x="1680" y="522" width="2" height="3" fill="#fff"/>
<rect class="c" x="1679" y="534" width="4" height="5" fill="#ffa500"/><rect class="c" x="1680" y="535" width="2" height="3" fill="#fff"/>
<rect class="c" x="1679" y="559" width="4" height="5" fill="#0000ff"/><rect class="c" x="1680" y="560" width="2" height="3" fill="#fff"/>
<g class="c" fill="#000">
<rect x="1684" y="633" width="1" height="1"/>
<rect x="1684" y="747" width="1" height="1"/>
<rect x="1684" y="749" width="1" height="1"/>
<rect x="1684" y="785" width="1" height="1"/>
<rect x="1684" y="836" width="1" height="1"/>
<rect x="1684" y="897" width="1" height="1"/>
<rect x="1684" y="922" width="1" height="1"/>
</g>
<text transform="translate(1687.3 587.5) scale(0.91 1)" text-anchor="start" style="font-size:10px;fill:#000;stroke:#000;stroke-width:0.2px;">0.022362</text>
<text transform="translate(1687.3 636.6) scale(0.91 1)" text-anchor="start" style="font-size:10px;fill:#000;stroke:#000;stroke-width:0.2px;">0.00</text>
<text transform="translate(1687.3 743.5) scale(0.91 1)" text-anchor="start" style="font-size:10px;fill:#000;stroke:#000;stroke-width:0.2px;">-0.046165</text>
<text transform="translate(1687.3 760.3) scale(0.91 1)" text-anchor="start" style="font-size:10px;fill:#000;stroke:#000;stroke-width:0.2px;">100</text>
<text transform="translate(1687.3 789) scale(0.91 1)" text-anchor="start" style="font-size:10px;fill:#000;stroke:#000;stroke-width:0.2px;">80</text>
<text transform="translate(1687.3 840) scale(0.91 1)" text-anchor="start" style="font-size:10px;fill:#000;stroke:#000;stroke-width:0.2px;">50</text>
<text transform="translate(1687.3 901) scale(0.91 1)" text-anchor="start" style="font-size:10px;fill:#000;stroke:#000;stroke-width:0.2px;">15</text>
<text transform="translate(1687.3 920) scale(0.91 1)" text-anchor="start" style="font-size:10px;fill:#000;stroke:#000;stroke-width:0.2px;">0</text>
<g class="c" fill="#000">
<rect x="57" y="924" width="1" height="3"/>
<rect x="121" y="924" width="1" height="3"/>
<rect x="185" y="924" width="1" height="3"/>
<rect x="249" y="924" width="1" height="3"/>
<rect x="313" y="924" width="1" height="3"/>
<rect x="377" y="924" width="1" height="3"/>
<rect x="441" y="924" width="1" height="3"/>
<rect x="505" y="924" width="1" height="3"/>
<rect x="569" y="924" width="1" height="3"/>
<rect x="633" y="924" width="1" height="3"/>
<rect x="697" y="924" width="1" height="3"/>
<rect x="761" y="924" width="1" height="3"/>
<rect x="825" y="924" width="1" height="3"/>
<rect x="889" y="924" width="1" height="3"/>
<rect x="953" y="924" width="1" height="3"/>
<rect x="1017" y="924" width="1" height="3"/>
<rect x="1081" y="924" width="1" height="3"/>
<rect x="1145" y="924" width="1" height="3"/>
<rect x="1209" y="924" width="1" height="3"/>
<rect x="1273" y="924" width="1" height="3"/>
<rect x="1337" y="924" width="1" height="3"/>
<rect x="1401" y="924" width="1" height="3"/>
</g>
<text x="-7.6" y="936.3" textLength="50" lengthAdjust="spacingAndGlyphs" style="font-size:10px;fill:#000;stroke:#000;stroke-width:0.2px;">22 Apr 2020</text>
<text x="56.4" y="936.3" textLength="49.6" lengthAdjust="spacingAndGlyphs" style="font-size:10px;fill:#000;stroke:#000;stroke-width:0.2px;">4 May 2020</text>
<text x="120.4" y="936.3" textLength="53.7" lengthAdjust="spacingAndGlyphs" style="font-size:10px;fill:#000;stroke:#000;stroke-width:0.2px;">14 May 2020</text>
<text x="184.4" y="936.3" textLength="54.0" lengthAdjust="spacingAndGlyphs" style="font-size:10px;fill:#000;stroke:#000;stroke-width:0.2px;">26 May 2020</text>
<text x="248.4" y="936.3" textLength="44.0" lengthAdjust="spacingAndGlyphs" style="font-size:10px;fill:#000;stroke:#000;stroke-width:0.2px;">5 Jun 2020</text>
<text x="312.4" y="936.3" textLength="48.9" lengthAdjust="spacingAndGlyphs" style="font-size:10px;fill:#000;stroke:#000;stroke-width:0.2px;">17 Jun 2020</text>
<text x="376.4" y="936.3" textLength="48.9" lengthAdjust="spacingAndGlyphs" style="font-size:10px;fill:#000;stroke:#000;stroke-width:0.2px;">29 Jun 2020</text>
<text x="440.4" y="936.3" textLength="40.9" lengthAdjust="spacingAndGlyphs" style="font-size:10px;fill:#000;stroke:#000;stroke-width:0.2px;">9 Jul 2020</text>
<text x="504.4" y="936.3" textLength="45.3" lengthAdjust="spacingAndGlyphs" style="font-size:10px;fill:#000;stroke:#000;stroke-width:0.2px;">21 Jul 2020</text>
<text x="568.4" y="936.3" textLength="45.6" lengthAdjust="spacingAndGlyphs" style="font-size:10px;fill:#000;stroke:#000;stroke-width:0.2px;">31 Jul 2020</text>
<text x="632.4" y="936.3" textLength="52.0" lengthAdjust="spacingAndGlyphs" style="font-size:10px;fill:#000;stroke:#000;stroke-width:0.2px;">12 Aug 2020</text>
<text x="696.4" y="936.3" textLength="51.9" lengthAdjust="spacingAndGlyphs" style="font-size:10px;fill:#000;stroke:#000;stroke-width:0.2px;">24 Aug 2020</text>
<text x="760.4" y="936.3" textLength="46.6" lengthAdjust="spacingAndGlyphs" style="font-size:10px;fill:#000;stroke:#000;stroke-width:0.2px;">3 Sep 2020</text>
<text x="824.4" y="936.3" textLength="51.6" lengthAdjust="spacingAndGlyphs" style="font-size:10px;fill:#000;stroke:#000;stroke-width:0.2px;">15 Sep 2020</text>
<text x="888.4" y="936.3" textLength="51.6" lengthAdjust="spacingAndGlyphs" style="font-size:10px;fill:#000;stroke:#000;stroke-width:0.2px;">25 Sep 2020</text>
<text x="952.4" y="936.3" textLength="45.3" lengthAdjust="spacingAndGlyphs" style="font-size:10px;fill:#000;stroke:#000;stroke-width:0.2px;">7 Oct 2020</text>
<text x="1016.4" y="936.3" textLength="50.3" lengthAdjust="spacingAndGlyphs" style="font-size:10px;fill:#000;stroke:#000;stroke-width:0.2px;">19 Oct 2020</text>
<text x="1080.4" y="936.3" textLength="50.3" lengthAdjust="spacingAndGlyphs" style="font-size:10px;fill:#000;stroke:#000;stroke-width:0.2px;">29 Oct 2020</text>
<text x="1144.4" y="936.3" textLength="53.4" lengthAdjust="spacingAndGlyphs" style="font-size:10px;fill:#000;stroke:#000;stroke-width:0.2px;">10 Nov 2020</text>
<text x="1208.4" y="936.3" textLength="52.6" lengthAdjust="spacingAndGlyphs" style="font-size:10px;fill:#000;stroke:#000;stroke-width:0.2px;">20 Nov 2020</text>
<text x="1272.4" y="936.3" textLength="46" lengthAdjust="spacingAndGlyphs" style="font-size:10px;fill:#000;stroke:#000;stroke-width:0.2px;">2 Dec 2020</text>
<text x="1336.4" y="936.3" textLength="50.7" lengthAdjust="spacingAndGlyphs" style="font-size:10px;fill:#000;stroke:#000;stroke-width:0.2px;">14 Dec 2020</text>
<text x="1400.4" y="936.3" textLength="50.3" lengthAdjust="spacingAndGlyphs" style="font-size:10px;fill:#000;stroke:#000;stroke-width:0.2px;">24 Dec 2020</text>
<text x="8.2" y="33.8" textLength="216" lengthAdjust="spacingAndGlyphs" style="font-size:10px;fill:#000;stroke:#000;stroke-width:0.2px;">USDCNH-,Daily&#160;&#160;6.53001 6.53037 6.51228 6.51734</text>
<path d="M0 33 L0 30 L3.2 33 Z" fill="#000"/>
<text x="-2.6" y="590.2" textLength="153.8" lengthAdjust="spacingAndGlyphs" style="font-size:10px;fill:#000;stroke:#000;stroke-width:0.2px;">MACD(12,26,9) -0.017190 -0.022175</text>
<text x="-2.2" y="762.2" textLength="67" lengthAdjust="spacingAndGlyphs" style="font-size:10px;fill:#000;stroke:#000;stroke-width:0.2px;">RSI(14) 40.4507</text>
<rect class="c" x="1094" y="432" width="10" height="3" fill="#00ff00"/>
<rect class="c" x="1250" y="533" width="195" height="5" fill="#00ff00"/>
<g class="c" stroke="#ff0000" stroke-width="2.8" fill="#ff0000" stroke-linecap="butt">
<line x1="1071.5" y1="396.9" x2="1336" y2="553.8"/>
<line x1="1344.2" y1="558.4" x2="1397" y2="531.6"/>
<line x1="1403.8" y1="528.6" x2="1434" y2="541.6"/>
<line x1="1243" y1="733.2" x2="1416" y2="681.5"/>
</g>
<g class="c" fill="#ff0000" stroke="none">
<path d="M1343.5 558.6 L1330.2 556.6 L1337.6 548.6 Z"/>
<path d="M1404.4 527 L1392.2 529.8 L1396.8 539.2 Z"/>
<path d="M1441 544.6 L1432.8 535.6 L1428 543.8 Z"/>
<circle cx="1403.6" cy="528.6" r="1.9"/>
<path d="M1425.8 678.5 L1412.8 676.8 L1416.4 686 Z"/>
</g>
<text x="1506.8" y="547.3" textLength="106.9" lengthAdjust="spacing" style="font-family:'Liberation Sans','Noto Sans CJK SC',sans-serif;font-size:20.7px;font-weight:300;fill:#00ff00;">多空转折点</text>
<g class="c">
<rect x="0" y="41" width="217" height="67" fill="#fff"/>
<rect x="0" y="42" width="48" height="25" fill="url(#gbtn)"/>
<rect x="163" y="42" width="52" height="25" fill="url(#gbtn)"/>
<rect x="0" y="66" width="105" height="40" fill="url(#gbig)"/>
<rect x="107" y="66" width="108" height="40" fill="url(#gbig)"/>
<rect x="0" y="65" width="44" height="1" fill="#960808"/>
<rect x="167" y="65" width="44" height="1" fill="#960808"/>
<rect x="0" y="66" width="44" height="1" fill="#e24646"/>
<rect x="167" y="66" width="44" height="1" fill="#e24646"/>
<rect x="0" y="42" width="48" height="1" fill="#c21818"/>
<rect x="163" y="42" width="52" height="1" fill="#c21818"/>
<rect x="50.5" y="42.5" width="110" height="21" fill="#fff" stroke="#aab0b8" stroke-width="1"/>
<rect x="52" y="44" width="18" height="18" fill="url(#gspin)"/>
<rect x="141" y="44" width="18" height="18" fill="url(#gspin)"/>
<rect x="71" y="43" width="1" height="20" fill="#aab0b8"/>
<rect x="139" y="43" width="1" height="20" fill="#aab0b8"/>
</g>
<path d="M58.3 51 L63.5 51 L60.9 54.2 Z" fill="#5a6ec0"/>
<path d="M146.8 54.2 L152 54.2 L149.4 51 Z" fill="#5a6ec0"/>
<text x="135.5" y="56.8" text-anchor="end" style="font-size:12px;fill:#111">1.00</text>
<text x="8" y="57.3" textLength="26" lengthAdjust="spacingAndGlyphs" style="font-size:12px;fill:#fff">SELL</text>
<text x="176.5" y="57.3" textLength="23" lengthAdjust="spacingAndGlyphs" style="font-size:12px;fill:#fff">BUY</text>
<text x="16.2" y="96.6" style="font-size:12px;font-weight:bold;fill:#fff">6.51</text>
<text x="126.3" y="96.6" style="font-size:12px;font-weight:bold;fill:#fff">6.51</text>
<text x="43.2" y="97.1" textLength="34.6" lengthAdjust="spacingAndGlyphs" style="font-size:36px;fill:#fff;stroke:url(#gbig2);stroke-width:0.8px">73</text>
<text x="153.8" y="97.1" textLength="35.8" lengthAdjust="spacingAndGlyphs" style="font-size:36px;fill:#fff;stroke:url(#gbig2);stroke-width:0.8px">99</text>
<text x="83" y="80.9" style="font-size:10.5px;font-weight:bold;fill:#fff">4</text>
<text x="194.3" y="80.9" style="font-size:10.5px;font-weight:bold;fill:#fff">7</text>
<g class="c">
<rect x="0" y="0" width="1730" height="17" fill="#f0f0f0"/>
<rect x="0" y="17" width="1730" height="1" fill="#f4f4f4"/>
<rect x="0" y="18" width="1730" height="1" fill="#a6a6a6"/>
<rect x="0" y="19" width="1730" height="1" fill="#6e6e6e"/>
<rect x="0" y="20" width="1729" height="2" fill="#fff"/>
<rect x="320" y="0" width="23" height="15" fill="#f8f8f8"/>
<rect x="470" y="0" width="25" height="15" fill="#f8f8f8"/>
<rect x="499" y="0" width="24" height="15" fill="#f8f8f8"/>
<rect x="660" y="0" width="23" height="15" fill="#f8f8f8"/>
<rect x="1133" y="0" width="24" height="15" fill="#f8f8f8"/>
<rect x="44" y="0" width="1" height="16" fill="#a8a8a8"/>
<rect x="318" y="0" width="1" height="16" fill="#a8a8a8"/>
<rect x="375" y="0" width="1" height="16" fill="#a8a8a8"/>
<rect x="465" y="0" width="1" height="16" fill="#a8a8a8"/>
<rect x="497" y="0" width="1" height="16" fill="#a8a8a8"/>
<rect x="527" y="0" width="1" height="16" fill="#a8a8a8"/>
<rect x="648" y="0" width="1" height="16" fill="#a8a8a8"/>
<rect x="658" y="0" width="1" height="16" fill="#a8a8a8"/>
<rect x="715" y="0" width="1" height="16" fill="#a8a8a8"/>
<rect x="954" y="0" width="1" height="16" fill="#a8a8a8"/>
<rect x="1132" y="0" width="1" height="16" fill="#a8a8a8"/>
<rect x="1215" y="0" width="1" height="16" fill="#a8a8a8"/>
<rect x="283" y="0" width="3" height="1" fill="#b0b0b0"/>
<rect x="283" y="2" width="3" height="1" fill="#b0b0b0"/>
<rect x="283" y="4" width="3" height="1" fill="#b0b0b0"/>
<rect x="283" y="6" width="3" height="1" fill="#b0b0b0"/>
<rect x="283" y="8" width="3" height="1" fill="#b0b0b0"/>
<rect x="283" y="10" width="3" height="1" fill="#b0b0b0"/>
<rect x="283" y="12" width="3" height="1" fill="#b0b0b0"/>
<rect x="651" y="0" width="3" height="1" fill="#b0b0b0"/>
<rect x="651" y="2" width="3" height="1" fill="#b0b0b0"/>
<rect x="651" y="4" width="3" height="1" fill="#b0b0b0"/>
<rect x="651" y="6" width="3" height="1" fill="#b0b0b0"/>
<rect x="651" y="8" width="3" height="1" fill="#b0b0b0"/>
<rect x="651" y="10" width="3" height="1" fill="#b0b0b0"/>
<rect x="651" y="12" width="3" height="1" fill="#b0b0b0"/>
<rect x="957" y="0" width="3" height="1" fill="#b0b0b0"/>
<rect x="957" y="2" width="3" height="1" fill="#b0b0b0"/>
<rect x="957" y="4" width="3" height="1" fill="#b0b0b0"/>
<rect x="957" y="6" width="3" height="1" fill="#b0b0b0"/>
<rect x="957" y="8" width="3" height="1" fill="#b0b0b0"/>
<rect x="957" y="10" width="3" height="1" fill="#b0b0b0"/>
<rect x="957" y="12" width="3" height="1" fill="#b0b0b0"/>
</g>
<rect x="-1" y="-2" width="7.2" height="14.2" fill="#fff" stroke="#3a7cc4" stroke-width="1.2"/>
<g stroke="#b8d0f4" stroke-width="0.8"><line x1="0" y1="1.5" x2="5" y2="1.5"/><line x1="0" y1="3.5" x2="5" y2="3.5"/><line x1="0" y1="5.5" x2="5" y2="5.5"/><line x1="0" y1="7.5" x2="5" y2="7.5"/></g>
<rect x="19.8" y="-2" width="11" height="13" fill="#fdfdfd" stroke="#b0a898" stroke-width="0.9"/>
<path d="M22 2 h6 M22 4.5 h3" stroke="#666" stroke-width="1"/>
<line x1="31" y1="10.4" x2="36" y2="14.6" stroke="#c89a14" stroke-width="2.6"/>
<circle cx="27.5" cy="7.2" r="5" fill="#dbeefc" fill-opacity="0.9" stroke="#6a9ee0" stroke-width="1"/>
<rect x="25.8" y="4" width="2.4" height="5" fill="#8fa4b8"/>
<rect x="54.5" y="-2" width="10.6" height="13" rx="1" fill="#fff" stroke="#777" stroke-width="1"/>
<path d="M56.5 1 h4 M56.5 3.5 h6 M56.5 6 h5" stroke="#888" stroke-width="1"/>
<path d="M62.4 4.6 h3.4 v3.7 h3.8 v3.4 h-3.8 v3.8 h-3.4 v-3.8 h-3.8 v-3.4 h3.8 z" fill="#2fd02f" stroke="#0a8a0a" stroke-width="0.9"/>
<text x="72.8" y="9" textLength="36" lengthAdjust="spacing" style="font-family:'Liberation Sans','Noto Sans CJK SC',sans-serif;font-size:12px;fill:#000;stroke:#000;stroke-width:0.26px;">新订单</text>
<path d="M121.3 7.2 L126.8 -1.5 L137.2 6.4 L137.2 8.4 L131 15 L121.3 9.2 Z" fill="#a8740c"/>
<path d="M121.3 7.2 L126.8 -1.5 L137.2 6.4 L131 13 Z" fill="#e4ac28"/>
<path d="M123.5 6.8 L127.4 0.8 L134.6 6.2" fill="none" stroke="#f6d880" stroke-width="1.1"/>
<path d="M121.8 8.4 L131 14 L136.8 7.6" fill="none" stroke="#f0d898" stroke-width="0.8"/>
<rect x="151.8" y="-2" width="10.4" height="10" fill="#2f8fe8" stroke="#1c6cc0" stroke-width="0.8"/>
<rect x="156" y="2.2" width="5" height="1.6" fill="#cfe6ff"/>
<path d="M151.5 13.8 a3.3 3.3 0 0 1 0.4 -6.5 a4.2 4.2 0 0 1 7.8 -0.6 a3.6 3.6 0 0 1 5 3 a2.5 2.5 0 0 1 -1.6 4.1 z" fill="#f1f4f8" stroke="#7e98bc" stroke-width="1"/>
<path d="M185.3 5.4 L185.3 -3 A8.4 8.4 0 0 1 186.4 13.6 L185.3 13.4 Z" fill="#9cc89c" fill-opacity="0.75"/>
<g fill="none" stroke="#5a86d8" stroke-width="1.1"><path d="M182.6 0.5 a5.6 5.6 0 0 0 0.4 9.6"/><path d="M180.4 -2 a8.6 8.6 0 0 0 0.8 14"/></g>
<path d="M188.5 0.8 a5.4 5.4 0 0 1 -0.6 9.2" fill="none" stroke="#5aa05a" stroke-width="1"/>
<circle cx="185.3" cy="5.4" r="1.9" fill="#2a5ad0"/>
<line x1="185.6" y1="6" x2="185.6" y2="13.6" stroke="#18a018" stroke-width="1.4"/>
<path d="M205.6 5 L218.6 5 L213.4 13.6 Z" fill="#f6d23a" stroke="#c89c10" stroke-width="0.8"/>
<ellipse cx="212" cy="2.6" rx="7.6" ry="2.6" fill="#4aa0e0"/>
<path d="M207.6 2 Q212 -6 216.6 2 Z" fill="#3a8cd4"/>
<circle cx="216.3" cy="9.9" r="4.1" fill="#d82a18"/>
<rect x="214.6" y="8.2" width="3.4" height="3.4" fill="#fff"/>
<text x="225.6" y="9.3" textLength="46.8" lengthAdjust="spacing" style="font-family:'Liberation Sans','Noto Sans CJK SC',sans-serif;font-size:12px;fill:#000;stroke:#000;stroke-width:0.26px;">自动交易</text>
<path d="M298.5 0 V13.8 M296 11.5 H308" stroke="#555" stroke-width="1.3" fill="none"/><path d="M307.6 9.6 l2.4 1.9 l-2.4 1.9 z" fill="#555"/>
<path d="M306.8 1.8 h-2.4 v6.6 h-2.2" fill="none" stroke="#1a9a1a" stroke-width="1.3"/>
<path d="M326.5 0 V13.8 M324 11.5 H336" stroke="#555" stroke-width="1.3" fill="none"/><path d="M335.6 9.6 l2.4 1.9 l-2.4 1.9 z" fill="#555"/>
<rect x="330" y="-1" width="4.6" height="8.6" fill="#22c022" stroke="#0a8a0a" stroke-width="0.8"/><line x1="332.3" y1="7.6" x2="332.3" y2="9.4" stroke="#0a8a0a" stroke-width="1"/>
<path d="M354.5 0 V13.8 M352 11.5 H364" stroke="#555" stroke-width="1.3" fill="none"/><path d="M363.6 9.6 l2.4 1.9 l-2.4 1.9 z" fill="#555"/>
<path d="M353 8.6 C356 3 359 1 361 3.6 L364.5 7.4" fill="none" stroke="#2a9a2a" stroke-width="1.2"/>
<line x1="394.2" y1="7.4" x2="398.8" y2="12.4" stroke="#d4a416" stroke-width="2.8"/>
<circle cx="390.2" cy="3.6" r="5.4" fill="#d4ecfc" stroke="#4a8ee0" stroke-width="1.2"/>
<line x1="387.2" y1="3.8" x2="393.2" y2="3.8" stroke="#3a7ed0" stroke-width="1.6"/>
<line x1="390.2" y1="0.8" x2="390.2" y2="6.8" stroke="#3a7ed0" stroke-width="1.6"/>
<line x1="422.2" y1="7.4" x2="426.8" y2="12.4" stroke="#d4a416" stroke-width="2.8"/>
<circle cx="418.2" cy="3.6" r="5.4" fill="#d4ecfc" stroke="#4a8ee0" stroke-width="1.2"/>
<line x1="415.2" y1="3.8" x2="421.2" y2="3.8" stroke="#3a7ed0" stroke-width="1.6"/>
<rect x="440.2" y="-2" width="7.8" height="7.4" fill="#4aa820"/><rect x="448.6" y="-2" width="7.8" height="7.4" fill="#2a5ad8"/><rect x="440.2" y="6.2" width="7.8" height="7.4" fill="#2a5ad8"/><rect x="448.6" y="6.2" width="7.8" height="7.4" fill="#4aa820"/>
<g fill="#fff"><rect x="441.6" y="1.4" width="5" height="2.6"/><rect x="450" y="1.4" width="5" height="2.6"/><rect x="441.6" y="9.4" width="5" height="2.6"/><rect x="450" y="9.4" width="5" height="2.6"/></g>
<path d="M478.5 0 V13.8 M476 11.5 H488" stroke="#555" stroke-width="1.3" fill="none"/><path d="M487.6 9.6 l2.4 1.9 l-2.4 1.9 z" fill="#555"/>
<path d="M483.2 1.8 L487.2 5 L483.2 8.2 Z" fill="#5ad05a" stroke="#1a9a1a" stroke-width="0.9"/>
<path d="M506.5 0 V13.8 M504 11.5 H516" stroke="#555" stroke-width="1.3" fill="none"/><path d="M515.6 9.6 l2.4 1.9 l-2.4 1.9 z" fill="#555"/>
<line x1="512.6" y1="0" x2="512.6" y2="9.8" stroke="#2a6ab0" stroke-width="1.2"/><path d="M517.8 5.4 H514.4 M516 3.4 L513.8 5.4 L516 7.4" stroke="#e0641a" stroke-width="1.1" fill="none"/>
<rect x="538" y="-2" width="10.4" height="13" rx="1" fill="#fff" stroke="#888" stroke-width="1"/>
<path d="M540.5 1.5 v6 M540.5 3 h3" stroke="#777" stroke-width="1" fill="none"/>
<path d="M545.4 4 h3.4 v3.9 h3.8 v3.4 h-3.8 v4 h-3.4 v-4 h-3.8 v-3.4 h3.8 z" fill="#2fd02f" stroke="#0a8a0a" stroke-width="0.9"/>
<path d="M558.8 5 h5.4 l-2.7 3.1 z" fill="#000"/>
<path d="M597.8 5 h5.4 l-2.7 3.1 z" fill="#000"/>
<path d="M636.9 5 h5.4 l-2.7 3.1 z" fill="#000"/>
<path d="M942.6 5 h5.4 l-2.7 3.1 z" fill="#000"/>
<circle cx="582.9" cy="5.6" r="7.2" fill="#f4f8fc" stroke="#1e6ad0" stroke-width="2"/>
<path d="M582.9 1.6 V6 H586" stroke="#555" stroke-width="1.1" fill="none"/>
<rect x="614.6" y="-2" width="15" height="14" fill="#fff" stroke="#3a7cd0" stroke-width="1.1"/>
<rect x="614.6" y="-2" width="15" height="3.6" fill="#4a8ee0"/>
<path d="M616.5 5.2 l3 -1 l3 0.6 l3 -1.4 l2.4 0" stroke="#b03018" stroke-width="1" fill="none"/>
<path d="M616.5 10 l3 -1.4 l3 0.8 l3 -1.8 l2.4 1.6" stroke="#1a9a1a" stroke-width="1" fill="none"/>
<line x1="615" y1="7" x2="629" y2="7" stroke="#9ab8e0" stroke-width="0.8"/>
<path d="M666.2 -1 V11 L669 8.4 L671.2 13.2 L673 12.4 L670.8 7.8 L674.4 7.4 Z" fill="#222"/>
<path d="M698.3 0 V14 M690.5 6.7 H706" stroke="#555" stroke-width="1.1" fill="none"/>
<rect class="c" x="732" y="0" width="1" height="13" fill="#555"/>
<rect class="c" x="755" y="6" width="12" height="1" fill="#555"/>
<line x1="783" y1="13" x2="795" y2="1" stroke="#555" stroke-width="1.1"/>
<g stroke="#555" stroke-width="0.9" fill="none"><path d="M809 11 L821 1 M811.5 13 L823.5 3 M812 6 l3 4 M815 4 l3 4 M818 2 l3 4"/></g>
<text x="818.6" y="14.6" style="font-size:6px;font-weight:bold;fill:#333">E</text>
<g stroke="#666" stroke-width="1" stroke-dasharray="1 1"><line x1="838" y1="2.5" x2="851" y2="2.5"/><line x1="838" y1="6.5" x2="851" y2="6.5"/><line x1="838" y1="10.5" x2="848" y2="10.5"/></g>
<text x="847.4" y="14.6" style="font-size:6px;font-weight:bold;fill:#333">F</text>
<text x="868.2" y="11.2" style="font-size:12.5px;fill:#444;stroke:#444;stroke-width:0.3px">A</text>
<rect x="895.5" y="0.5" width="11" height="12" fill="none" stroke="#666" stroke-width="1" stroke-dasharray="1 1"/>
<text x="897.2" y="11" style="font-size:11.5px;font-weight:bold;fill:#555">T</text>
<path d="M922 3.4 l3.4 -3.4 l3.4 3.4 l-3.4 2 z M929 11 l3.4 -2.4 l3.4 2.4 l-3.4 2.6 z" fill="#444"/><path d="M924.4 6.6 l3 3.6 l3.6 -5" stroke="#444" stroke-width="1.2" fill="none"/>
<text x="969.4" y="10" style="font-size:9.6px;fill:#3c3c3c">M1</text>
<text x="997.2" y="10" style="font-size:9.6px;fill:#3c3c3c">M5</text>
<text x="1023.6" y="10" style="font-size:9.6px;fill:#3c3c3c">M15</text>
<text x="1051.4" y="10" style="font-size:9.6px;fill:#3c3c3c">M30</text>
<text x="1082.4" y="10" style="font-size:9.6px;fill:#3c3c3c">H1</text>
<text x="1109.6" y="10" style="font-size:9.6px;fill:#3c3c3c">H4</text>
<text x="1138.2" y="10" style="font-size:9.6px;fill:#3c3c3c">D1</text>
<text x="1166" y="10" style="font-size:9.6px;fill:#3c3c3c">W1</text>
<text x="1192.4" y="10" style="font-size:9.6px;fill:#3c3c3c">MN</text>
<line x1="1682.6" y1="6.4" x2="1678" y2="10.8" stroke="#1e5ad0" stroke-width="2.6" stroke-linecap="round"/>
<circle cx="1685.6" cy="3.4" r="3.8" fill="#f4f6ff" stroke="#2a62d8" stroke-width="1.3"/>
<path d="M1702.4 7.6 a5.6 4.6 0 1 1 5.6 4.6 l-2.6 2.4 l0.4 -2.8 a5.6 4.6 0 0 1 -3.4 -4.2 z" fill="#e8e8f0" stroke="#a8a8a8" stroke-width="1"/>
<circle cx="1716.7" cy="3.3" r="8.4" fill="url(#gbadge)"/>
<text x="1711.6" y="7.9" style="font-family:'Liberation Serif',serif;font-size:14.5px;fill:#fff;stroke:#fff;stroke-width:0.3px">1</text>
</svg>
</body></html>
